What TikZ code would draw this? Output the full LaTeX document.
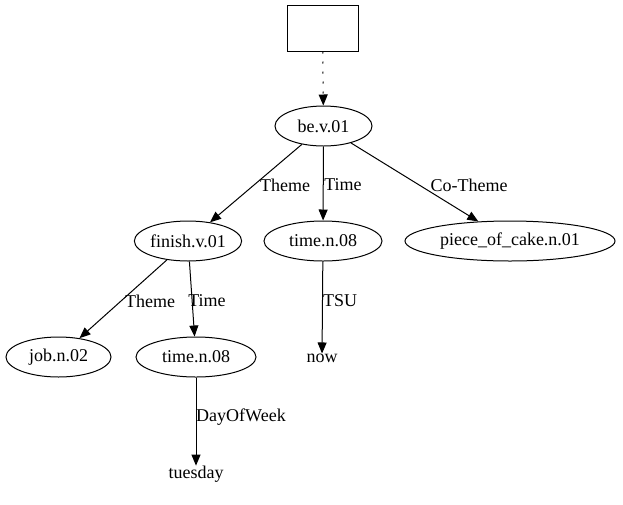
\documentclass[tikz,border=0pt]{standalone}
\usepackage{fontspec}
\setmainfont{Liberation Serif}
\usetikzlibrary{shapes.geometric,arrows.meta}
\begin{document}
\begin{tikzpicture}[x=1pt,y=-1pt,
  every node/.style={font=\fontsize{18pt}{20pt}\selectfont},
  ell/.style={ellipse,draw,line width=1pt,inner sep=0pt,minimum height=40pt},
  plain/.style={inner sep=0pt},
  lbl/.style={inner sep=0pt},
  edge/.style={line width=1pt,-{Triangle[length=11pt,width=9pt]}}]
\useasboundingbox (0,0) rectangle (623,504);
\node[draw,line width=1pt,minimum width=71pt,minimum height=46pt,inner sep=0pt] (top) at (322.5,28) {};
\node[ell,minimum width=97pt] (be) at (323.5,126) {be.v.01};
\node[ell,minimum width=102pt] (fin) at (188,241) {finish.v.01};
\node[ell,minimum width=118pt] (t1) at (323,241) {time.n.08};
\node[ell,minimum width=210pt] (cake) at (510,241) {piece\_of\_cake.n.01};
\node[ell,minimum width=105pt] (job) at (58.5,357) {job.n.02};
\node[ell,minimum width=120pt] (t2) at (196,357) {time.n.08};
\node[plain] (now) at (322,358) {now};
\node[plain] (tue) at (196,474) {tuesday};
\draw[edge,dash pattern=on 2pt off 8pt] (top) -- (be);
\draw[edge] (be) -- (fin);
\draw[edge] (be) -- (t1);
\draw[edge] (be) -- (cake);
\draw[edge] (fin) -- (job);
\draw[edge] (fin) -- (t2);
\draw[edge] (t1) -- (now);
\draw[edge] (t2) -- (tue);
\node[lbl] (l1) at (285,185) {Theme};
\node[lbl] (l2) at (343,185) {Time};
\node[lbl] (l3) at (469,185) {Co-Theme};
\node[lbl] (l4) at (150,301) {Theme};
\node[lbl] (l5) at (207,301) {Time};
\node[lbl] (l6) at (340,301) {TSU};
\node[lbl] (l7) at (241,417) {DayOfWeek};
\end{tikzpicture}
\end{document}
